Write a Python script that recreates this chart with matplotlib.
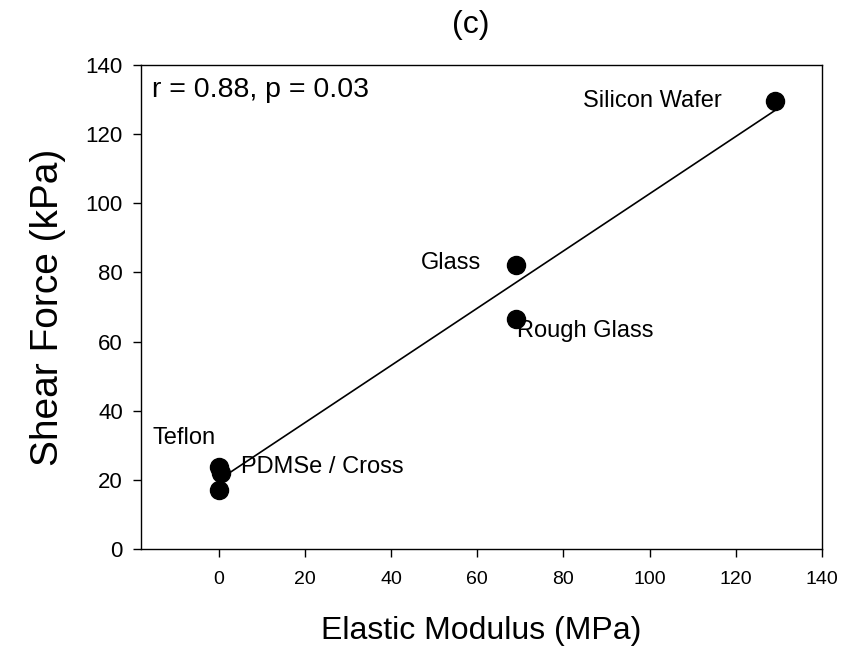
import numpy as np
import matplotlib.pyplot as plt

plt.rcParams['font.family'] = ['Liberation Sans', 'DejaVu Sans']

# surfaces: elastic modulus (MPa) vs shear force (kPa)
names = ['Teflon', 'PDMSe', 'Cross', 'Glass', 'Rough Glass', 'Silicon Wafer']
modulus = np.array([0.0, 0.5, 0.0, 69.0, 69.0, 129.0])
shear = np.array([23.7, 22.0, 17.1, 82.2, 66.5, 129.7])

# label text and offsets (pixels) for each annotated point
labels = [('Teflon', 0, (-3, 29), 'right'),
          ('PDMSe / Cross', 1, (20, 6), 'left'),
          ('Glass', 3, (-35, 2), 'right'),
          ('Rough Glass', 4, (1, -12), 'left'),
          ('Silicon Wafer', 5, (-53, 0), 'right')]

fig = plt.figure(figsize=(8.48, 6.47), dpi=100)
ax = fig.add_axes([0.1663, 0.1515, 0.8030, 0.7480])

# linear regression line
slope, icpt = np.polyfit(modulus, shear, 1)
xf = np.array([modulus.min(), modulus.max()])
ax.plot(xf, slope * xf + icpt, color='black', lw=1.2, zorder=2)

ax.plot(modulus, shear, 'o', color='black', markersize=13, zorder=3)

for txt, i, off, ha in labels:
    ax.annotate(txt, (modulus[i], shear[i]), xytext=off, textcoords='offset pixels',
                ha=ha, va='center', fontsize=17)

ax.text(0.016, 0.975, 'r = 0.88, p = 0.03', transform=ax.transAxes,
        ha='left', va='top', fontsize=20.5)

ax.set_xlim(-18, 140)
ax.set_ylim(0, 140)
ax.set_xticks(np.arange(0, 141, 20))
ax.set_yticks(np.arange(0, 141, 20))
ax.tick_params(direction='out', length=6, width=1)
ax.tick_params(axis='x', labelsize=14, pad=10)
ax.tick_params(axis='y', labelsize=16, pad=7)
for s in ax.spines.values():
    s.set_linewidth(1)

ax.set_xlabel('Elastic Modulus (MPa)', fontsize=23, labelpad=20)
ax.set_ylabel('Shear Force (kPa)', fontsize=28, labelpad=14)
ax.set_title('(c)', fontsize=23, pad=23, x=0.484)

fig.savefig('out.png', dpi=100)
